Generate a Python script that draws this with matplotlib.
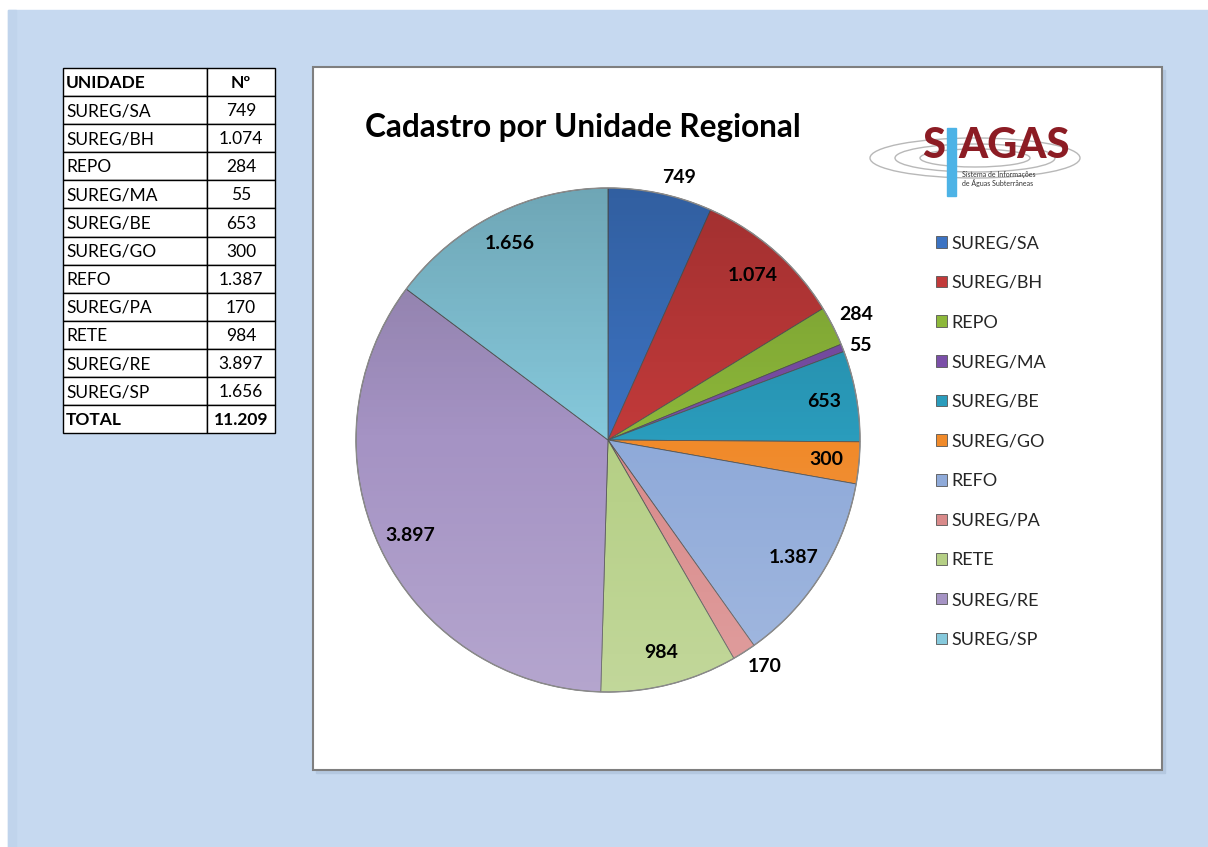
import numpy as np
import matplotlib.pyplot as plt
from matplotlib.patches import Rectangle, Ellipse, Circle

plt.rcParams['font.family'] = ['Lato', 'DejaVu Sans']

# data
unidades = ['SUREG/SA', 'SUREG/BH', 'REPO', 'SUREG/MA', 'SUREG/BE', 'SUREG/GO',
            'REFO', 'SUREG/PA', 'RETE', 'SUREG/RE', 'SUREG/SP']
valores = [749, 1074, 284, 55, 653, 300, 1387, 170, 984, 3897, 1656]
cores = ['#3C73C2', '#C23A3A', '#8DB83A', '#7B4FA8', '#2A9CBC', '#F08A2A',
         '#8FAAD9', '#D98A8A', '#B5CF85', '#A593C4', '#86C9DC']
fora = ['SUREG/SA', 'REPO', 'SUREG/MA', 'SUREG/PA']   # labels drawn outside

def fmt(v):
    return '{:,}'.format(v).replace(',', '.')

W, H = 1208, 847
fig = plt.figure(figsize=(W / 100, H / 100), dpi=100)
fig.patch.set_facecolor('white')

# background in pixel coords
bg = fig.add_axes([0, 0, 1, 1])
bg.set_xlim(0, W)
bg.set_ylim(H, 0)
bg.axis('off')
bg.add_patch(Rectangle((8, 10), W - 8, H - 10, color='#C6D9F0', zorder=0))
bg.add_patch(Rectangle((8, 10), 8, H - 10, color='#C0D4EC', zorder=0))
# chart box with shadow
bg.add_patch(Rectangle((316, 70), 849, 703, color='#B4C8E0', zorder=1))
bg.add_patch(Rectangle((313, 67), 849, 703, facecolor='white', edgecolor='#7F7F7F', lw=1.5, zorder=2))

# table
x0, x1, x2 = 63, 207, 275
top, rh = 68, 28.1
linhas = [('UNIDADE', 'Nº')] + [(u, fmt(v)) for u, v in zip(unidades, valores)] + [('TOTAL', fmt(sum(valores)))]
for i, (a, b) in enumerate(linhas):
    y = top + i * rh
    bold = i == 0 or i == len(linhas) - 1
    bg.add_patch(Rectangle((x0, y), x1 - x0, rh, facecolor='white', edgecolor='black', lw=1, zorder=3))
    bg.add_patch(Rectangle((x1, y), x2 - x1, rh, facecolor='white', edgecolor='black', lw=1, zorder=3))
    bg.text(x0 + 3, y + rh / 2 + 1, a, ha='left', va='center', fontsize=12.5,
            fontweight='bold' if bold else 'normal', color='black', zorder=4)
    bg.text((x1 + x2) / 2, y + rh / 2 + 1, b, ha='center', va='center', fontsize=12.5,
            fontweight='bold' if bold else 'normal', color='black', zorder=4)

# title
bg.text(365, 128, 'Cadastro por Unidade Regional', ha='left', va='center',
        fontsize=22.7, fontweight='bold', color='black', zorder=5)

# SIAGAS logo (approximation)
for w_, h_ in [(210, 40), (160, 28), (110, 18)]:
    bg.add_patch(Ellipse((975, 158), w_, h_, fill=False, edgecolor='#B8B8B8', lw=1, zorder=4))
bg.add_patch(Rectangle((947, 128), 9, 68, color='#4DB3E6', zorder=5))
bg.text(945, 146, 'S', ha='right', va='center', fontsize=30, fontweight='black', color='#8C1C24', zorder=6)
bg.text(958, 146, 'AGAS', ha='left', va='center', fontsize=30, fontweight='black', color='#8C1C24', zorder=6)
bg.text(962, 179, 'Sistema de Informações\nde Águas Subterrâneas', ha='left', va='center',
        fontsize=5, color='#333333', zorder=6, linespacing=1.1)

# pie
cx, cy, R = 608, 440, 252
lim = 1.2
side = 2 * lim * R
ax = fig.add_axes([(cx - side / 2) / W, (H - cy - side / 2) / H, side / W, side / H])

wedges, _ = ax.pie(valores, colors=cores, startangle=90, counterclock=False, radius=1,
                   wedgeprops=dict(edgecolor='#555555', linewidth=0.6))

# shading overlay (light top, dark bottom)
grad = np.zeros((200, 2, 4))
t = np.linspace(0, 1, 200)[:, None]
grad[..., :3] = np.where(t < 0.5, 1.0, 0.0)[..., None]
grad[..., 3] = (np.abs(t - 0.5) * 0.35)
im = ax.imshow(grad, extent=[-1, 1, 1, -1], aspect='auto', zorder=3)
im.set_clip_path(Circle((0, 0), 1, transform=ax.transData))
ax.set_xlim(-lim, lim)
ax.set_ylim(-lim, lim)
ax.set_aspect('equal')
ax.axis('off')
ax.add_patch(Circle((0, 0), 1, fill=False, edgecolor='#8A8A8A', lw=1.0, zorder=4))

total = sum(valores)
ang = 90.0
for u, v in zip(unidades, valores):
    mid = np.deg2rad(ang - 360.0 * v / total / 2)
    ang -= 360.0 * v / total
    c, s = np.cos(mid), np.sin(mid)
    if u in fora:
        ha = 'left' if c > 0 else 'right'
        va = 'bottom' if s > 0.4 else ('top' if s < -0.4 else 'center')
        ax.text(1.03 * c, 1.03 * s, fmt(v), ha=ha, va=va,
                fontsize=14, fontweight='bold', color='black', zorder=6)
    else:
        ax.text(0.87 * c, 0.87 * s, fmt(v), ha='center', va='center',
                fontsize=14, fontweight='bold', color='black', zorder=6)

ax.legend(wedges, unidades, loc='upper left', bbox_to_anchor=(920 / W, 1 - 219 / H),
          bbox_transform=fig.transFigure, frameon=False, fontsize=13,
          handlelength=0.6, handleheight=0.6, handletextpad=0.25, labelspacing=1.31,
          labelcolor='#262626')

fig.savefig('out.png', dpi=100)
